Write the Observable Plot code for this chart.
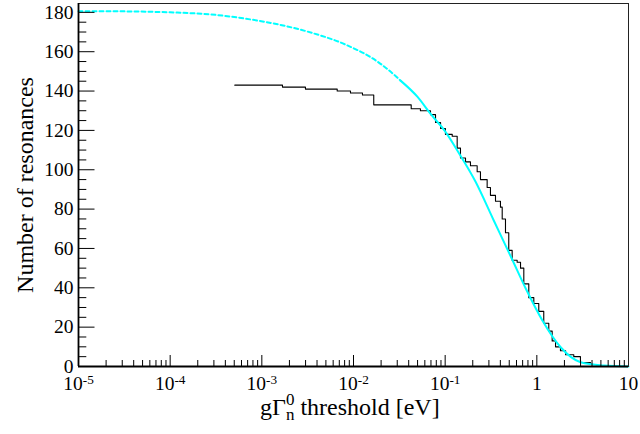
<!DOCTYPE html>
<html><head><meta charset="utf-8">
<script src="https://cdn.jsdelivr.net/npm/d3@7"></script>
<script src="https://cdn.jsdelivr.net/npm/@observablehq/plot@0.6"></script>
<style>
html,body{margin:0;padding:0;background:#fff;font-family:"Liberation Serif",serif}
svg{display:block}
</style>
</head><body><div id="chart"></div>
<script>
// Measured cumulative number of resonances above threshold (step curve)
const measE = [5.07e-4, 1.68e-3, 2.99e-3, 6.64e-3, 9.27e-3, 0.01253, 0.01663, 0.0426, 0.0537, 0.0692, 0.0785, 0.0891, 0.1007, 0.1194, 0.1352, 0.1469, 0.1667, 0.1888, 0.2234, 0.2427, 0.2871, 0.3119, 0.354, 0.401, 0.419, 0.455, 0.494, 0.538, 0.610, 0.664, 0.721, 0.817, 0.927, 1.05, 1.19, 1.35, 1.47, 1.60, 1.81, 2.06, 2.53, 2.99, 3.85, 4.55];
const measN = [143, 142, 141, 140, 139, 138, 133, 131, 130, 128, 124, 121, 118, 117, 111, 106, 104, 102, 99, 95, 91, 87, 84, 81, 75, 68, 59, 54, 53, 50, 42, 35, 32, 28, 22, 18, 13, 10, 8, 6, 5, 2, 1, 0];
// Fitted curve
const fitE = [1e-5, 3.16e-5, 1e-4, 3.16e-4, 6.6e-4, 1.5e-3, 3.5e-3, 8.1e-3, 0.0186, 0.0282, 0.0326, 0.05, 0.069, 0.1, 0.141, 0.214, 0.339, 0.537, 0.759, 1.15, 1.82, 3.0, 5.4, 10];
const fitN = [180.6, 180.5, 180, 178.7, 176.8, 173.9, 169.6, 163.7, 154.7, 148, 145.3, 137, 128.5, 119.5, 108.5, 94, 74.2, 54.5, 39.5, 23.4, 9.8, 2.2, 0.5, 0];
const fitSolidFrom = 0.0326;
const xTickValues = [1e-5, 1e-4, 1e-3, 1e-2, 1e-1, 1, 10];
const xTickLabels = ["10^-5", "10^-4", "10^-3", "10^-2", "10^-1", "1", "10"];
const yTickValues = [0, 20, 40, 60, 80, 100, 120, 140, 160, 180];
const yTitle = "Number of resonances";

const W = 640, H = 434, mL = 78, mR = 12, mT = 3, mB = 68;
const plotW = W - mL - mR, plotH = H - mT - mB;
const meas = measE.map((e, i) => ({e, n: measN[i]}));
const fit = fitE.map((e, i) => ({e, n: fitN[i]}));
const xMinor = [];
for (let p = -5; p <= 0; p++) for (let k = 2; k <= 9; k++) xMinor.push(k * Math.pow(10, p));
const yMinor = d3.range(5, 185, 5).filter(v => v % 20 !== 0);
const serif = "Liberation Serif, Times New Roman, serif";

const svg = Plot.plot({
  width: W, height: H,
  marginLeft: mL, marginRight: mR, marginTop: mT, marginBottom: mB,
  style: {background: "#fff", color: "#000", fontFamily: serif},
  x: {type: "log", domain: [1e-5, 10]},
  y: {domain: [0, 184.5]},
  marks: [
    Plot.line(meas, {x: "e", y: "n", curve: "step-after", stroke: "#000", strokeWidth: 1.1}),
    Plot.line(fit.filter(d => d.e <= fitSolidFrom), {x: "e", y: "n", curve: "monotone-x", stroke: "#00ffff", strokeWidth: 2, strokeDasharray: "4,3"}),
    Plot.line(fit.filter(d => d.e >= fitSolidFrom), {x: "e", y: "n", curve: "monotone-x", stroke: "#00ffff", strokeWidth: 2}),
    Plot.tickX(xTickValues, {x: d => d, insetTop: plotH - 11, stroke: "#000", strokeWidth: 1}),
    Plot.tickX(xMinor, {x: d => d, insetTop: plotH - 6, stroke: "#000", strokeWidth: 1}),
    Plot.tickY(yTickValues, {y: d => d, insetRight: plotW - 16.5, stroke: "#000", strokeWidth: 1}),
    Plot.tickY(yMinor, {y: d => d, insetRight: plotW - 8.3, stroke: "#000", strokeWidth: 1}),
    Plot.frame({stroke: "#222", strokeWidth: 1}),
    Plot.ruleX([1e-5], {stroke: "#000", strokeWidth: 1.8}),
    Plot.ruleY([0], {stroke: "#000", strokeWidth: 1.8}),
    Plot.axisX(xTickValues, {tickSize: 0, tickPadding: 10, tickFormat: d => xTickLabels[xTickValues.indexOf(d)], fontSize: 19.5, fontFamily: serif, fill: "#000", label: null}),
    Plot.axisY(yTickValues, {tickSize: 0, tickPadding: 5, fontSize: 19.5, fontFamily: serif, fill: "#000", label: null})
  ]
});

const s = d3.select(svg);
s.attr("font-family", serif);
s.selectAll('g[aria-label="x-axis tick label"] text').each(function () {
  const t = this.textContent;
  const m = t.match(/^(\d+)\^(.+)$/);
  if (m) {
    const el = d3.select(this);
    el.text(null);
    el.append("tspan").text(m[1]);
    el.append("tspan").attr("dy", "-0.45em").attr("font-size", "0.68em").text(m[2]);
  }
});

// x-axis title: g Γ_n^0 threshold [eV]
const xt = s.append("text").attr("x", 260).attr("y", 415).attr("text-anchor", "start")
  .attr("font-family", serif).attr("font-size", 24).attr("fill", "#000");
xt.append("tspan").text("gΓ");
xt.append("tspan").attr("font-size", 17).attr("dy", -10).text("0");
xt.append("tspan").attr("font-size", 17).attr("dx", -8.5).attr("dy", 14.5).text("n");
xt.append("tspan").attr("dy", -4.5).text(" threshold [eV]");

// y-axis title
s.append("text").attr("transform", "translate(33,185) rotate(-90)")
  .attr("text-anchor", "middle").attr("font-family", serif).attr("font-size", 24)
  .attr("fill", "#000").text(yTitle);

document.getElementById("chart").appendChild(svg);

// re-apply the font once it is loaded, to force a re-layout with it
if (document.fonts && document.fonts.load) {
  document.fonts.load('24px "Liberation Serif"').then(() => {
    s.selectAll("text").attr("font-family", serif);
  }).catch(() => {});
}
</script>
</body></html>
